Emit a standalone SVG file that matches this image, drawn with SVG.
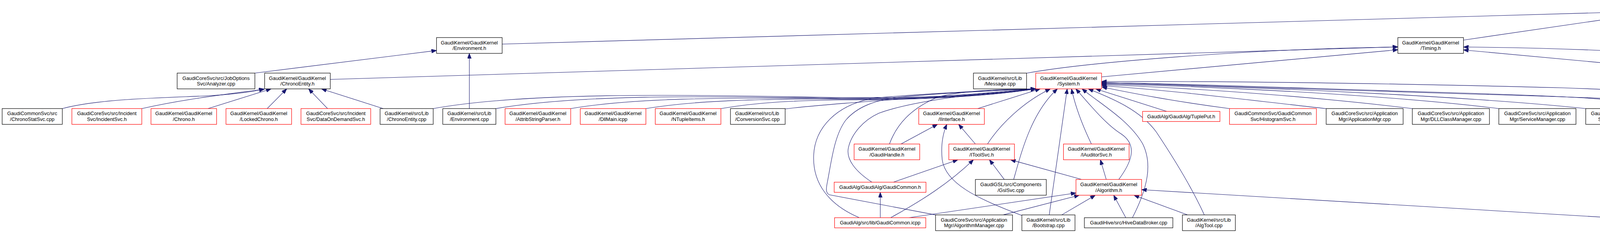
<svg xmlns="http://www.w3.org/2000/svg" width="5743" height="597" viewBox="0 0 5743 597">
<style>
.node rect{fill:#ffffff;stroke:#000000;stroke-width:1.2}
.node rect.red{stroke:#ff0000}
.node rect.grey{fill:#bfbfbf}
.node text{font-family:"Liberation Sans",Arial,sans-serif;font-size:12.8px;fill:#000000;text-anchor:middle}
.node text.l{text-anchor:start}
#edges path{fill:none;stroke:#191970;stroke-width:1.1;marker-end:url(#ah)}
</style>
<defs>
<marker id="ah" markerUnits="userSpaceOnUse" markerWidth="13" markerHeight="10" refX="13" refY="5" orient="auto" viewBox="0 0 13 10">
<path d="M0,0 L13,5 L0,10 Z" fill="#191970" stroke="#191970" stroke-width="1"/>
</marker>
</defs>
<rect x="0" y="0" width="5743" height="597" fill="#ffffff"/>
<g id="edges">
<path d="M1285.5,113 L4157.5,30.8"/>
<path d="M3746.5,102.7 L4157.5,42.7"/>
<path d="M4747.5,104.6 L4325.5,42.7"/>
<path d="M5153.5,108.3 L4325.5,36.9"/>
<path d="M652.5,187.3 L1117.5,129.4"/>
<path d="M1201.5,278.2 L1201.5,136.7"/>
<path d="M845.5,203.5 L3578.5,120"/>
<path d="M2628,187.5 C2780,160 3200,125 3578.5,120.5"/>
<path d="M2820,197 L3578.5,127.5"/>
<path d="M4700,187.3 C4450,139 4050,123 3746.5,120.5"/>
<path d="M4503.5,198 L3746.5,128"/>
<path d="M4778,187.3 L4807,136.7"/>
<path d="M4943,187.3 L4861,136.7"/>
<path d="M5108.5,278.2 L4905,232.5 C4880,221 4852,184 4833,136.7"/>
<path d="M5033,187.3 L5169,136.7"/>
<path d="M5184,187.3 L5216,136.7"/>
<path d="M5387,187.3 L5287,136.7"/>
<path d="M5553,187.3 L5321,136.5"/>
<path d="M4392,561.5 C4600,537 4800,522 4950,502 C5100,479 5220,449 5280,422 C5300,410 5304,398 5304,388 L5304,264 C5304,229 5285,179 5255,136.7"/>
<path d="M159.5,278.2 C250,254 400,251 520,246 C600,242 645,236 676,227.7"/>
<path d="M363,278.2 C480,252 600,239 677,228.5"/>
<path d="M532.5,278.2 L694,227.7"/>
<path d="M684,278.2 L734,227.7"/>
<path d="M838.5,278.2 L790,227.7"/>
<path d="M981,278.2 L823,227.7"/>
<path d="M1109,278.2 C1350,235 1750,243 2100,249 C2420,254 2570,237 2651.5,227.7"/>
<path d="M1269.5,278.2 C1480,242 1800,246 2100,251 C2420,256 2570,238 2651.5,227.7"/>
<path d="M1461,278.2 C1620,251 1850,250 2100,252 C2420,257 2570,239 2651.5,227.7"/>
<path d="M1653.5,278.2 C1780,257 1950,254 2100,254 C2420,258 2570,240 2651.5,227.7"/>
<path d="M1845.5,278.2 C1940,262 2030,258 2150,256 C2420,257 2570,240 2651.5,227.7"/>
<path d="M2010,279 C2150,262 2450,246 2651.5,227.7"/>
<path d="M2200,557.8 C2120,524 2080,468 2083,398 C2086,328 2140,268 2240,251 C2400,237 2560,231 2651.5,227.7"/>
<path d="M2395,550.6 L2123,499 C2113,494 2115,482 2118,467 C2128,417 2135,348 2165,308 C2195,273 2240,257 2300,249 C2450,235 2580,231 2651.5,227.7"/>
<path d="M2232,466.8 C2190,439 2165,408 2172,378 C2180,343 2210,308 2250,290 C2340,257 2520,237 2651.5,227.7"/>
<path d="M2277,369 C2295,320 2330,279 2400,249 C2470,230 2580,229 2651.5,227.7"/>
<path d="M2503,278.2 L2663,227.7"/>
<path d="M2528,369 C2560,319 2620,261 2689,227.7"/>
<path d="M2595,459.8 C2615,389 2640,289 2707,227.7"/>
<path d="M2686,550.6 C2700,449 2720,319 2732,227.7"/>
<path d="M2794,369 C2770,319 2752,269 2743,227.7"/>
<path d="M2864,459.8 C2895,418 2915,373 2870,343 C2830,318 2790,268 2754,227.7"/>
<path d="M2899,557.8 C2940,478 2950,418 2925,368 C2890,308 2820,268 2770,227.7"/>
<path d="M3083,550.6 C3050,478 3000,398 2960,338 C2920,283 2850,253 2786,227.7"/>
<path d="M2987,285.4 L2805,227.7"/>
<path d="M3147.5,278.2 C3000,259 2900,239 2821,223"/>
<path d="M3395,278.2 C3200,257 3000,231 2820,219.5"/>
<path d="M3615.5,278.2 C3400,252 3100,227 2820,217"/>
<path d="M3837,278.2 C3600,249 3200,224 2820,215"/>
<path d="M4059.5,278.2 C3800,251 3300,224 2820,213.5"/>
<path d="M4282,278.2 C4150,251 4000,246 3700,237 C3300,225 3000,213 2820,212"/>
<path d="M4505,278.2 C4350,257 4100,251 3700,239 C3300,227 3000,214 2820,211"/>
<path d="M5108.5,278.2 C4800,263 4400,239 4000,225 C3500,212 3100,208 2820,209"/>
<path d="M4756,278.2 L4641,227.7"/>
<path d="M4912.5,278.6 L4672,227.7"/>
<path d="M2306.5,369 L2400,318.6"/>
<path d="M2497,369 L2454,318.6"/>
<path d="M2616,552 C2500,509 2420,469 2412,409 C2408,369 2415,339 2424,318.6"/>
<path d="M2287,466.8 L2452,409.4"/>
<path d="M2280,557.8 C2360,514 2430,469 2492,409.4"/>
<path d="M2571,459.8 L2533,409.4"/>
<path d="M2769,459.8 L2587,409.4"/>
<path d="M2253.5,557.8 L2253.5,492.8"/>
<path d="M2832,459.8 L2817,409.4"/>
<path d="M2327,557.8 L2754.5,494.5"/>
<path d="M2568,550.6 L2763,500.2"/>
<path d="M2718,550.6 L2804,500.2"/>
<path d="M2882,557.8 L2851,500.2"/>
<path d="M3040,550.6 L2903,500.2"/>
<path d="M4196.5,562 L2922.5,486"/>
</g>
<g id="n1" class="node"><rect class="grey" x="4157.5" y="5.5" width="168" height="40.4"/><text x="4241.5" y="22.7">GaudiKernel/GaudiKernel</text><text x="4241.5" y="37.2">/SystemBase.h</text></g>
<g id="n2" class="node"><rect x="1117.5" y="96.3" width="168" height="40.4"/><text x="1201.5" y="113.5">GaudiKernel/GaudiKernel</text><text x="1201.5" y="128">/Environment.h</text></g>
<g id="n3" class="node"><rect x="3578.5" y="96.3" width="168" height="40.4"/><text x="3662.5" y="113.5">GaudiKernel/GaudiKernel</text><text x="3662.5" y="128">/Timing.h</text></g>
<g id="n4" class="node"><rect x="4747.5" y="96.3" width="145.5" height="40.4"/><text class="l" x="4760.5" y="113.5">GaudiKernel/src/Lib</text><text class="l" x="4760.5" y="128">/ProcessDescriptor.h</text></g>
<g id="n5" class="node"><rect x="5153.5" y="96.3" width="167.5" height="40.4"/><text x="5237.3" y="113.5">GaudiKernel/GaudiKernel</text><text x="5237.3" y="128">/Memory.h</text></g>
<g id="n6" class="node"><rect x="453.5" y="187.3" width="199" height="40.4"/><text x="553" y="204.5">GaudiCoreSvc/src/JobOptions</text><text x="553" y="219">Svc/Analyzer.cpp</text></g>
<g id="n7" class="node"><rect x="677.5" y="187.3" width="168" height="40.4"/><text x="761.5" y="204.5">GaudiKernel/GaudiKernel</text><text x="761.5" y="219">/ChronoEntity.h</text></g>
<g id="n8" class="node"><rect x="2492" y="187.3" width="136" height="40.4"/><text x="2560" y="204.5">GaudiKernel/src/Lib</text><text x="2560" y="219">/Message.cpp</text></g>
<g id="n9" class="node"><rect class="red" x="2651.5" y="187.3" width="168.5" height="40.4"/><text x="2735.8" y="204.5">GaudiKernel/GaudiKernel</text><text x="2735.8" y="219">/System.h</text></g>
<g id="n10" class="node"><rect x="4503.5" y="187.3" width="171" height="40.4"/><text x="4589" y="204.5">GaudiAlg/src/components</text><text x="4589" y="219">/TimerForSequencer.h</text></g>
<g id="n11" class="node"><rect x="4699.5" y="187.3" width="136" height="40.4"/><text x="4767.5" y="204.5">GaudiKernel/src/Lib</text><text x="4767.5" y="219">/Timing.cpp</text></g>
<g id="n12" class="node"><rect x="4911" y="187.3" width="135" height="40.4"/><text x="4978.5" y="204.5">GaudiKernel/src/Lib</text><text x="4978.5" y="219">/Memory.cpp</text></g>
<g id="n13" class="node"><rect x="5071" y="187.3" width="196" height="40.4"/><text x="5169" y="204.5">GaudiHive/src/HiveSlimEvent</text><text x="5169" y="219">LoopMgr.cpp</text></g>
<g id="n14" class="node"><rect x="5342.5" y="187.3" width="173.5" height="40.4"/><text x="5429.3" y="204.5">GaudiUtils/src/component</text><text x="5429.3" y="219">/StalledEventMonitor.cpp</text></g>
<g id="n15" class="node"><rect x="5540" y="187.3" width="197" height="40.4"/><text x="5638.5" y="204.5">GaudiCoreSvc/src/Application</text><text x="5638.5" y="219">Mgr/EventLoopMgr.cpp</text></g>
<g id="n16" class="node"><rect x="5.5" y="278.2" width="154" height="40.4"/><text x="82.5" y="295.4">GaudiCommonSvc/src</text><text x="82.5" y="309.9">/ChronoStatSvc.cpp</text></g>
<g id="n17" class="node"><rect class="red" x="184" y="278.2" width="179" height="40.4"/><text x="273.5" y="295.4">GaudiCoreSvc/src/Incident</text><text x="273.5" y="309.9">Svc/IncidentSvc.h</text></g>
<g id="n18" class="node"><rect class="red" x="386.5" y="278.2" width="168" height="40.4"/><text x="470.5" y="295.4">GaudiKernel/GaudiKernel</text><text x="470.5" y="309.9">/Chrono.h</text></g>
<g id="n19" class="node"><rect class="red" x="578.5" y="278.2" width="168" height="40.4"/><text x="662.5" y="295.4">GaudiKernel/GaudiKernel</text><text x="662.5" y="309.9">/LockedChrono.h</text></g>
<g id="n20" class="node"><rect class="red" x="770.5" y="278.2" width="178.5" height="40.4"/><text x="859.8" y="295.4">GaudiCoreSvc/src/Incident</text><text x="859.8" y="309.9">Svc/DataOnDemandSvc.h</text></g>
<g id="n21" class="node"><rect x="973" y="278.2" width="136" height="40.4"/><text x="1041" y="295.4">GaudiKernel/src/Lib</text><text x="1041" y="309.9">/ChronoEntity.cpp</text></g>
<g id="n22" class="node"><rect x="1133.5" y="278.2" width="136" height="40.4"/><text x="1201.5" y="295.4">GaudiKernel/src/Lib</text><text x="1201.5" y="309.9">/Environment.cpp</text></g>
<g id="n23" class="node"><rect class="red" x="1293" y="278.2" width="168" height="40.4"/><text x="1377" y="295.4">GaudiKernel/GaudiKernel</text><text x="1377" y="309.9">/AttribStringParser.h</text></g>
<g id="n24" class="node"><rect class="red" x="1485.5" y="278.2" width="168" height="40.4"/><text x="1569.5" y="295.4">GaudiKernel/GaudiKernel</text><text x="1569.5" y="309.9">/DllMain.icpp</text></g>
<g id="n25" class="node"><rect class="red" x="1677.5" y="278.2" width="168" height="40.4"/><text x="1761.5" y="295.4">GaudiKernel/GaudiKernel</text><text x="1761.5" y="309.9">/NTupleItems.h</text></g>
<g id="n26" class="node"><rect x="1870" y="278.2" width="140" height="40.4"/><text class="l" x="1882" y="295.4">GaudiKernel/src/Lib</text><text class="l" x="1882" y="309.9">/ConversionSvc.cpp</text></g>
<g id="n27" class="node"><rect class="red" x="2352" y="278.2" width="168" height="40.4"/><text x="2436" y="295.4">GaudiKernel/GaudiKernel</text><text x="2436" y="309.9">/IInterface.h</text></g>
<g id="n28" class="node"><rect class="red" x="2925" y="285.4" width="198" height="26"/><text x="3024" y="302.6">GaudiAlg/GaudiAlg/TuplePut.h</text></g>
<g id="n29" class="node"><rect class="red" x="3147.5" y="278.2" width="222.5" height="40.4"/><text x="3258.8" y="295.4">GaudiCommonSvc/GaudiCommon</text><text x="3258.8" y="309.9">Svc/HistogramSvc.h</text></g>
<g id="n30" class="node"><rect x="3395" y="278.2" width="197" height="40.4"/><text x="3493.5" y="295.4">GaudiCoreSvc/src/Application</text><text x="3493.5" y="309.9">Mgr/ApplicationMgr.cpp</text></g>
<g id="n31" class="node"><rect x="3615.5" y="278.2" width="197.5" height="40.4"/><text x="3714.3" y="295.4">GaudiCoreSvc/src/Application</text><text x="3714.3" y="309.9">Mgr/DLLClassManager.cpp</text></g>
<g id="n32" class="node"><rect x="3837" y="278.2" width="197.5" height="40.4"/><text x="3935.8" y="295.4">GaudiCoreSvc/src/Application</text><text x="3935.8" y="309.9">Mgr/ServiceManager.cpp</text></g>
<g id="n33" class="node"><rect x="4059.5" y="278.2" width="198.5" height="40.4"/><text x="4158.8" y="295.4">GaudiCoreSvc/src/JobOptions</text><text x="4158.8" y="309.9">Svc/JobOptionsSvc.cpp</text></g>
<g id="n34" class="node"><rect x="4282" y="278.2" width="199" height="40.4"/><text x="4381.5" y="295.4">GaudiCoreSvc/src/JobOptions</text><text x="4381.5" y="309.9">Svc/Utils.cpp</text></g>
<g id="n35" class="node"><rect x="4505" y="278.2" width="187" height="40.4"/><text x="4598.5" y="295.4">GaudiCoreSvc/src/Message</text><text x="4598.5" y="309.9">Svc/MessageSvc.cpp</text></g>
<g id="n36" class="node"><rect x="4717" y="278.2" width="171.5" height="40.4"/><text x="4802.8" y="295.4">GaudiAlg/src/components</text><text x="4802.8" y="309.9">/TimerForSequencer.cpp</text></g>
<g id="n37" class="node"><rect class="red" x="4912.5" y="278.2" width="172" height="40.4"/><text x="4998.5" y="295.4">GaudiAlg/src/components</text><text x="4998.5" y="309.9">/SequencerTimerTool.h</text></g>
<g id="n38" class="node"><rect x="5108.5" y="278.2" width="158.5" height="40.4"/><text class="l" x="5120.5" y="295.4">GaudiKernel/src/Lib</text><text class="l" x="5120.5" y="309.9">/ProcessDescriptor.cpp</text></g>
<g id="n39" class="node"><rect class="red" x="2186.5" y="369" width="168" height="40.4"/><text x="2270.5" y="386.2">GaudiKernel/GaudiKernel</text><text x="2270.5" y="400.7">/GaudiHandle.h</text></g>
<g id="n40" class="node"><rect class="red" x="2429" y="369" width="168" height="40.4"/><text x="2513" y="386.2">GaudiKernel/GaudiKernel</text><text x="2513" y="400.7">/IToolSvc.h</text></g>
<g id="n41" class="node"><rect class="red" x="2722.5" y="369" width="168" height="40.4"/><text x="2806.5" y="386.2">GaudiKernel/GaudiKernel</text><text x="2806.5" y="400.7">/IAuditorSvc.h</text></g>
<g id="n42" class="node"><rect class="red" x="2135.5" y="466.8" width="235" height="26"/><text x="2253" y="484">GaudiAlg/GaudiAlg/GaudiCommon.h</text></g>
<g id="n43" class="node"><rect x="2497" y="459.8" width="181.5" height="40.4"/><text x="2587.8" y="477">GaudiGSL/src/Components</text><text x="2587.8" y="491.5">/GslSvc.cpp</text></g>
<g id="n44" class="node"><rect class="red" x="2754.5" y="459.8" width="168" height="40.4"/><text x="2838.5" y="477">GaudiKernel/GaudiKernel</text><text x="2838.5" y="491.5">/Algorithm.h</text></g>
<g id="n45" class="node"><rect class="red" x="2136.5" y="557.8" width="233.5" height="26"/><text x="2253.3" y="575">GaudiAlg/src/lib/GaudiCommon.icpp</text></g>
<g id="n46" class="node"><rect x="2395" y="550.6" width="197" height="40.4"/><text x="2493.5" y="567.8">GaudiCoreSvc/src/Application</text><text x="2493.5" y="582.3">Mgr/AlgorithmManager.cpp</text></g>
<g id="n47" class="node"><rect x="2616" y="550.6" width="136" height="40.4"/><text x="2684" y="567.8">GaudiKernel/src/Lib</text><text x="2684" y="582.3">/Bootstrap.cpp</text></g>
<g id="n48" class="node"><rect x="2776" y="557.8" width="226.5" height="26"/><text x="2889.3" y="575">GaudiHive/src/HiveDataBroker.cpp</text></g>
<g id="n49" class="node"><rect x="3027" y="550.6" width="135.5" height="40.4"/><text x="3094.8" y="567.8">GaudiKernel/src/Lib</text><text x="3094.8" y="582.3">/AlgTool.cpp</text></g>
<g id="n50" class="node"><rect x="4196.5" y="550.6" width="195.5" height="40.4"/><text x="4294.3" y="567.8">GaudiHive/src/HLTEventLoop</text><text x="4294.3" y="582.3">Mgr.cpp</text></g>
</svg>
